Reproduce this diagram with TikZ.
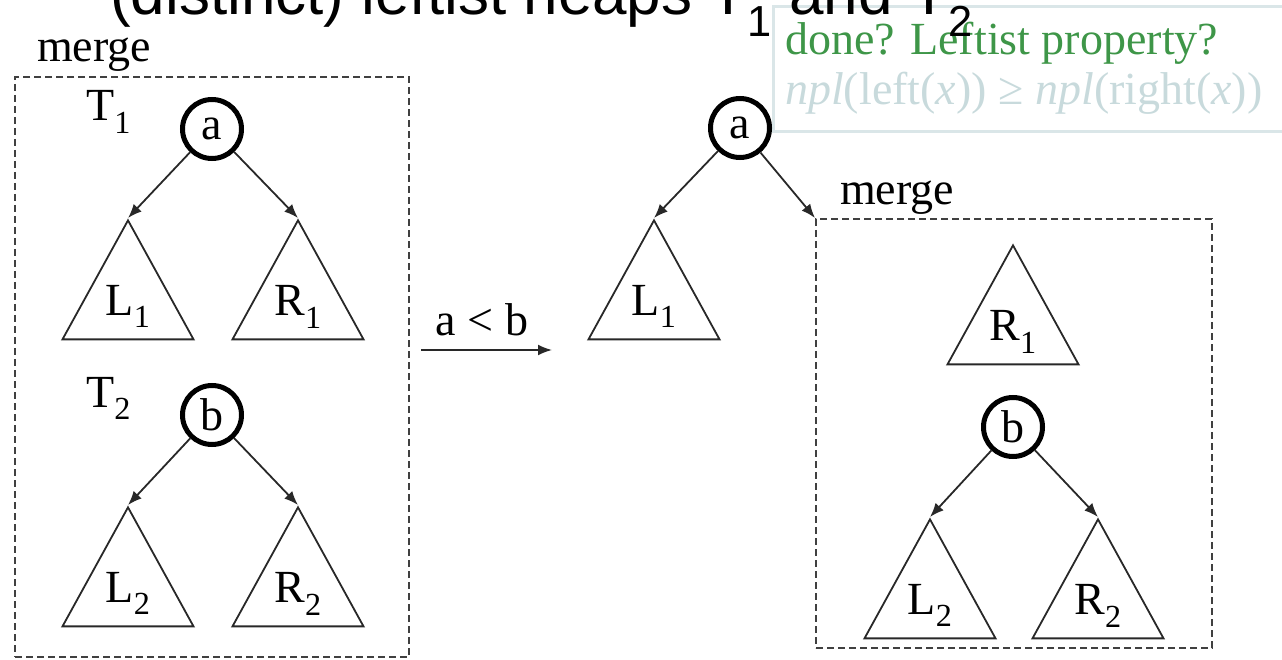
\documentclass[tikz,border=0pt]{standalone}
\usepackage{fontspec}
\setmainfont{Liberation Serif}
\newfontfamily\titlefont{Liberation Sans}
\usetikzlibrary{arrows.meta, positioning, shapes.geometric}

\definecolor{donegreen}{RGB}{62,150,72}
\definecolor{notegray}{RGB}{200,218,220}
\definecolor{noteedge}{RGB}{218,230,232}
\definecolor{dashgray}{RGB}{64,64,64}
\definecolor{linegray}{RGB}{40,40,40}
\newcommand{\slidefont}{\fontsize{46}{50}\selectfont}

\begin{document}
\begin{tikzpicture}[
  x=1pt, y=-1pt,
  font=\slidefont,
  heap/.style={circle, draw, line width=5pt, minimum size=59pt, inner sep=0pt},
  subtree/.style={draw=linegray, isosceles triangle, isosceles triangle stretches,
                  shape border rotate=90, minimum width=131pt, minimum height=119pt,
                  inner sep=0pt, line width=1.8pt, anchor=apex},
  mergebox/.style={draw=dashgray, dash pattern=on 7pt off 4pt, line width=2pt,
                   anchor=north west, inner sep=0pt},
  tarrow/.style={-{Latex[length=14pt, width=11pt]}, draw=linegray, line width=1.8pt},
  >=Latex
]
\clip (0,0) rectangle (1282,660);

% Note box
\node[draw=noteedge, line width=3pt, anchor=north west,
      minimum width=540pt, minimum height=125pt, inner sep=0pt] (note) at (772,5) {};
\node[anchor=base west, inner sep=0pt, text=donegreen] (done) at (785,55)
    {done? Leftist property?};
\node[anchor=base west, inner sep=0pt, text=notegray] (npl) at (785,105)
    {\textit{npl}(left(\textit{x})) ≥ \textit{npl}(right(\textit{x}))};

% slide title, cut by the top edge
\node[font=\titlefont\fontsize{62}{70}\selectfont, anchor=base west, inner sep=0pt]
    (title) at (110,15) {(distinct) leftist heaps T\textsubscript{1} and T\textsubscript{2}};

% Left: the two heaps to be merged
\node[mergebox, minimum width=394pt, minimum height=580pt] (box1) at (14,76) {};
\node[anchor=base west, inner sep=0pt] (merge1) at (37,62) {merge};

\node[anchor=base west, inner sep=0pt] (t1) at (86,121) {T\textsubscript{1}};
\node[heap] (a1) at (212,129) {a};
\node[subtree] (l1) at (128,218) {L\textsubscript{1}};
\node[subtree] (r1) at (298,218) {R\textsubscript{1}};
\draw[tarrow] (a1) -- (l1.apex);
\draw[tarrow] (a1) -- (r1.apex);

\node[anchor=base west, inner sep=0pt] (t2) at (86,407) {T\textsubscript{2}};
\node[heap] (b1) at (212,415) {b};
\node[subtree] (l2) at (128,505) {L\textsubscript{2}};
\node[subtree] (r2) at (298,505) {R\textsubscript{2}};
\draw[tarrow] (b1) -- (l2.apex);
\draw[tarrow] (b1) -- (r2.apex);

% Step arrow
\coordinate (stepL) at (421,350);
\coordinate (stepR) at (552,350);
\draw[tarrow] (stepL) -- (stepR);
\node[anchor=base, inner sep=0pt] (cmp) at (482,335) {a < b};

% Right: a keeps L1, R1 merged with T2
\node[heap] (a2) at (740,128) {a};
\node[subtree] (l1b) at (654,218) {L\textsubscript{1}};
\node[mergebox, minimum width=396pt, minimum height=429pt] (box2) at (815,218) {};
\node[anchor=base west, inner sep=0pt] (merge2) at (840,205) {merge};
\draw[tarrow] (a2) -- (l1b.apex);
\draw[tarrow] (a2) -- (box2.north west);

\node[subtree] (r1b) at (1013,243) {R\textsubscript{1}};
\node[heap] (b2) at (1013,427) {b};
\node[subtree] (l2b) at (930,517) {L\textsubscript{2}};
\node[subtree] (r2b) at (1098,517) {R\textsubscript{2}};
\draw[tarrow] (b2) -- (l2b.apex);
\draw[tarrow] (b2) -- (r2b.apex);
\end{tikzpicture}
\end{document}
